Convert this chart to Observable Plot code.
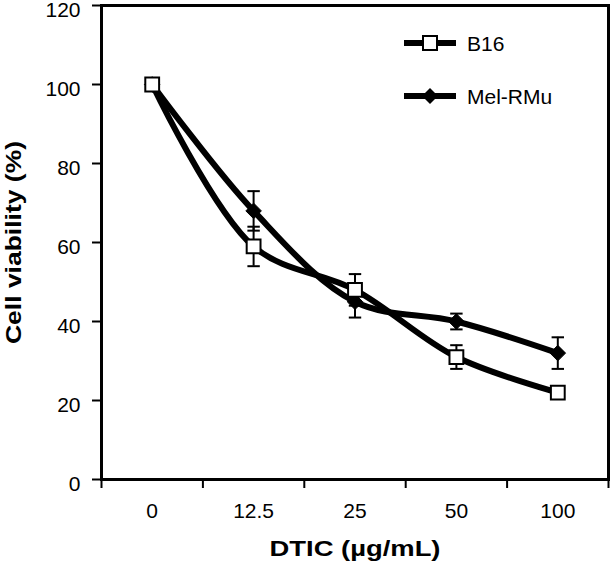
<!DOCTYPE html>
<html>
<head>
<meta charset="utf-8">
<script src="https://cdn.jsdelivr.net/npm/d3@7"></script>
<script src="https://cdn.jsdelivr.net/npm/@observablehq/plot@0.6"></script>
<style>
  html, body { margin: 0; padding: 0; background: #fff; }
  #chart { position: relative; width: 612px; height: 570px; }
  #legend { position: absolute; left: 0; top: 0; }
</style>
</head>
<body>
<div id="chart"></div>
<script>
const categories = ["0", "12.5", "25", "50", "100"];
const b16 = [100, 59, 48, 31, 22];
const b16Err = [0, 5, 4, 3, 0];
const mel = [100, 68, 45, 40, 32];
const melErr = [0, 5, 4, 2, 4];
const yTicks = [0, 20, 40, 60, 80, 100, 120];
const seriesNames = ["B16", "Mel-RMu"];
const xTitle = "DTIC (µg/mL)";
const yTitle = "Cell viability (%)";

const font = "'Liberation Sans', Arial, Helvetica, sans-serif";

const rows = [];
categories.forEach((c, i) => {
  rows.push({series: "B16", i, v: b16[i], e: b16Err[i]});
  rows.push({series: "Mel-RMu", i, v: mel[i], e: melErr[i]});
});
const b16Rows = rows.filter(d => d.series === "B16");
const melRows = rows.filter(d => d.series === "Mel-RMu");
const errRows = rows.filter(d => d.e > 0);
const boundaries = d3.range(categories.length + 1).map(k => k - 0.5);

// horizontal cap symbol for error bars
const capSymbol = {
  draw(context, size) {
    const w = Math.sqrt(size) / 2;
    context.moveTo(-w, 0);
    context.lineTo(w, 0);
  }
};

const plot = Plot.plot({
  width: 612,
  height: 570,
  marginLeft: 101,
  marginRight: 4,
  marginTop: 5,
  marginBottom: 91,
  style: {fontFamily: font, fontSize: "21px", color: "#000", background: "#fff"},
  x: {type: "linear", domain: [-0.5, categories.length - 0.5]},
  y: {domain: [0, 120]},
  marks: [
    Plot.axisY({ticks: yTicks, tickSize: 9, strokeWidth: 2, tickFormat: () => "", label: null}),
    Plot.axisY({ticks: yTicks, tickSize: 9, tickPadding: 12, dy: 5, stroke: "none", label: null, fontSize: 21}),
    Plot.axisX({ticks: boundaries, tickSize: 9, strokeWidth: 2, tickFormat: () => "", label: null}),
    Plot.axisX({ticks: d3.range(categories.length), tickSize: 0, tickPadding: 24, tickFormat: i => categories[i], label: null, fontSize: 21}),
    Plot.frame({stroke: "#000", strokeWidth: 3}),
    // error bars
    Plot.ruleX(errRows, {x: "i", y1: d => d.v - d.e, y2: d => d.v + d.e, stroke: "#000", strokeWidth: 2}),
    Plot.dot(errRows, {x: "i", y: d => d.v + d.e, symbol: capSymbol, r: 7, fill: "none", stroke: "#000", strokeWidth: 2}),
    Plot.dot(errRows, {x: "i", y: d => d.v - d.e, symbol: capSymbol, r: 7, fill: "none", stroke: "#000", strokeWidth: 2}),
    // lines
    Plot.line(b16Rows, {x: "i", y: "v", curve: "catmull-rom", stroke: "#000", strokeWidth: 6}),
    Plot.line(melRows, {x: "i", y: "v", curve: "catmull-rom", stroke: "#000", strokeWidth: 6}),
    // markers
    Plot.dot(melRows, {x: "i", y: "v", symbol: "diamond2", r: 7, fill: "#000", stroke: "#000", strokeWidth: 1}),
    Plot.dot(b16Rows, {x: "i", y: "v", symbol: "square", r: 7.8, fill: "#fff", stroke: "#000", strokeWidth: 2}),
    // axis titles
    Plot.text([xTitle], {frameAnchor: "bottom", dy: 76, text: d => d, fontWeight: "bold", fontSize: 22}),
    Plot.text([yTitle], {frameAnchor: "left", dx: -88, rotate: -90, textAnchor: "middle", text: d => d, fontWeight: "bold", fontSize: 22})
  ]
});

// stretch axis titles to the reference widths
d3.select(plot).selectAll("text").each(function() {
  const t = this.textContent;
  if (t === xTitle) d3.select(this).attr("textLength", 171).attr("lengthAdjust", "spacingAndGlyphs");
  if (t === yTitle) d3.select(this).attr("textLength", 203).attr("lengthAdjust", "spacingAndGlyphs");
});

const chart = document.getElementById("chart");
chart.appendChild(plot);

// legend (inside plot area, top right)
const leg = d3.select(chart).append("svg")
  .attr("id", "legend")
  .attr("width", 612).attr("height", 570)
  .style("pointer-events", "none");
const legY = [43, 96];
seriesNames.forEach((name, k) => {
  const g = leg.append("g").attr("transform", `translate(0,${legY[k]})`);
  g.append("line").attr("x1", 404).attr("x2", 456).attr("y1", 0).attr("y2", 0)
    .attr("stroke", "#000").attr("stroke-width", 6);
  if (k === 0) {
    g.append("rect").attr("x", 423).attr("y", -7).attr("width", 14).attr("height", 14)
      .attr("fill", "#fff").attr("stroke", "#000").attr("stroke-width", 2);
  } else {
    g.append("path").attr("d", "M430,-8L438,0L430,8L422,0Z").attr("fill", "#000");
  }
  g.append("text").attr("x", 467).attr("y", 0).attr("dy", "0.36em")
    .attr("font-family", font).attr("font-size", 21).text(name);
});
</script>
</body>
</html>
